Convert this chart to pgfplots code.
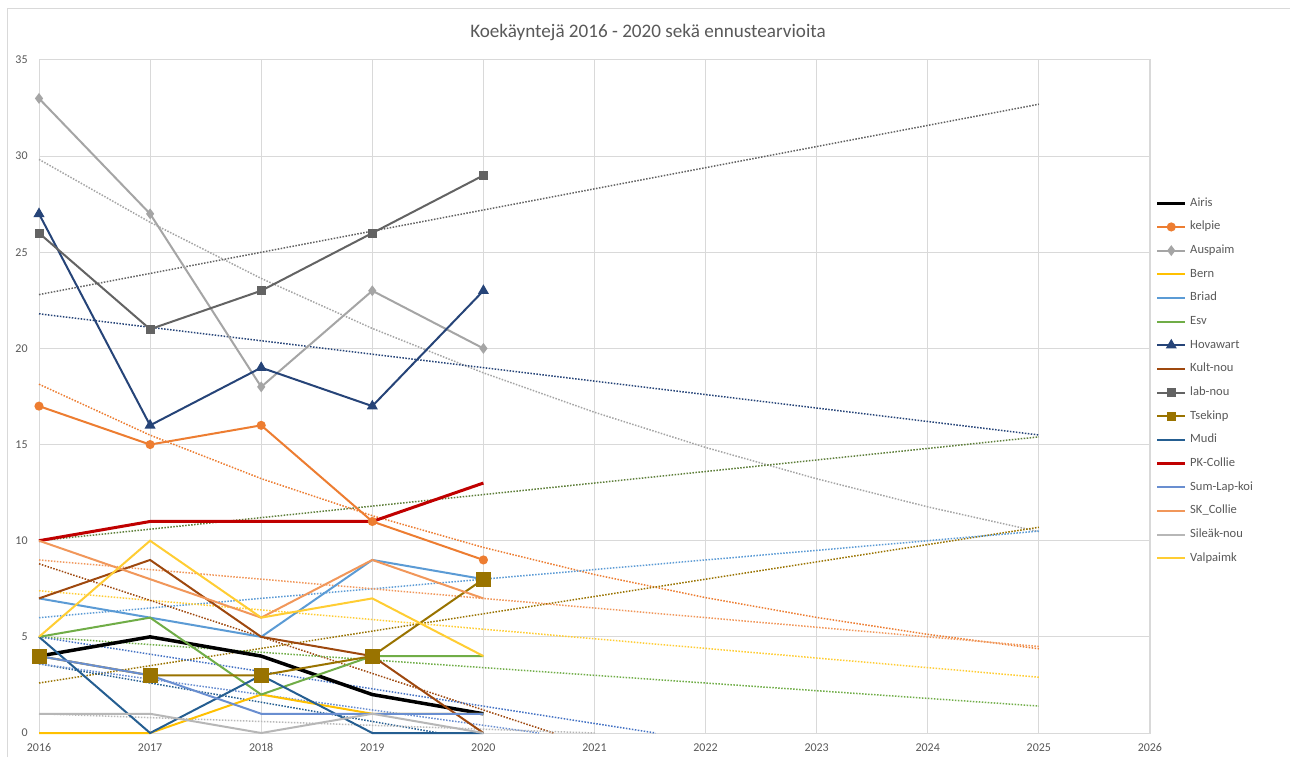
\documentclass[border=0pt]{standalone}
\usepackage{fontspec}
\setmainfont{Carlito}
\usepackage{pgfplots}
\pgfplotsset{compat=1.18}
\usepackage{pgfplotstable}

\definecolor{txt}{HTML}{595959}
\definecolor{gridc}{HTML}{D9D9D9}
\definecolor{cAiris}{HTML}{000000}
\definecolor{cKelpie}{HTML}{ED7D31}
\definecolor{cAuspaim}{HTML}{A5A5A5}
\definecolor{cBern}{HTML}{FFC000}
\definecolor{cBriad}{HTML}{5B9BD5}
\definecolor{cEsv}{HTML}{70AD47}
\definecolor{cHova}{HTML}{264478}
\definecolor{cKult}{HTML}{9E480E}
\definecolor{cLab}{HTML}{636363}
\definecolor{cTsek}{HTML}{997300}
\definecolor{cMudi}{HTML}{255E91}
\definecolor{cPK}{HTML}{C00000}
\definecolor{cSum}{HTML}{698ED0}
\definecolor{cSK}{HTML}{F1975A}
\definecolor{cSile}{HTML}{B7B7B7}
\definecolor{cValp}{HTML}{FFCD33}
\definecolor{cPKtrend}{HTML}{5E7F3A}
\definecolor{cXtrend}{HTML}{4472C4}

% koekäynnit 2016-2020
\pgfplotstableread{
year Airis kelpie Auspaim Bern Briad Esv Hovawart Kultnou labnou Tsekinp Mudi PKCollie SumLap SKCollie Sileak Valpaimk
2016 4 17 33 0 7 5 27 7 26 4  5 10 4 10 1 5
2017 5 15 27 0 6 6 16 9 21 3  0 11 3 8  1 10
2018 4 16 18 2 5 2 19 5 23 3  3 11 1 6  0 6
2019 2 11 23 1 9 4 17 4 26 4  0 11 1 9  1 7
2020 1 9  20 1 8 4 23 0 29 8  0 13 1 7  0 4
}\koe

% eksponentiaaliset trendit (kelpie, Auspaim)
\pgfplotstableread{
year kelpie Auspaim
2016 18.14 29.83
2017 15.49 26.56
2018 13.23 23.64
2019 11.30 21.04
2020 9.65  18.73
2021 8.24  16.68
2022 7.04  14.85
2023 6.01  13.22
2024 5.13  11.76
2025 4.38  10.47
}\kasvu

\begin{document}
\begin{tikzpicture}[x=1bp,y=1bp]
\useasboundingbox (0,0) rectangle (645,378.5);
\fill[white] (0,0) rectangle (645,378.5);
\draw[gridc, line width=0.5bp] (3.5,0) -- (3.5,374) -- (645,374);
\node[text=txt, font=\fontsize{9.6}{11}\selectfont] at (324,362.5)
  {Koekäyntejä 2016 - 2020 sekä ennustearvioita};
\begin{axis}[
    at={(19.5bp,12bp)}, anchor=south west,
    scale only axis, width=555.5bp, height=336.5bp,
    xmin=2016, xmax=2026, ymin=0, ymax=35,
    xtick={2016,2017,...,2026}, ytick={0,5,...,35},
    major tick length=0pt,
    grid=major,
    major grid style={draw=gridc, line width=0.5bp},
    axis line style={draw=gridc, line width=0.5bp},
    clip=false,
    /pgf/number format/assume math mode=true,
    x tick label style={/pgf/number format/1000 sep={}, inner sep=0pt, yshift=-5bp},
    y tick label style={inner sep=0pt, xshift=-5.5bp},
    ticklabel style={font=\fontsize{6}{7}\selectfont, text=txt},
    trend/.style={line width=0.75bp, dash pattern=on 0.75bp off 0.75bp, forget plot},
    ser/.style={line width=1bp},
    legend image code/.code={
      \draw[mark repeat=2, mark phase=2, #1]
        plot coordinates {(0bp,0bp) (6.9bp,0bp) (13.8bp,0bp)};
    },
    legend cell align=left,
    legend style={
      at={(1,0.7957)}, xshift=2.85bp, anchor=north west,
      draw=none, fill=none, inner sep=0pt, outer sep=0pt,
      font=\fontsize{6.3}{7.5}\selectfont, text=txt,
      row sep=6.03bp, column sep=1.7bp,
      nodes={inner sep=0pt, text height=4.4bp, text depth=1.4bp},
    },
  ]
  % trendit
  \addplot[trend, cLab] coordinates {(2016,22.8) (2025,32.7)};
  \addplot[trend, cAuspaim] table[x=year, y=Auspaim] {\kasvu};
  \addplot[trend, cHova] coordinates {(2016,21.8) (2025,15.5)};
  \addplot[trend, cPKtrend] coordinates {(2016,10.0) (2025,15.4)};
  \addplot[trend, cKelpie] table[x=year, y=kelpie] {\kasvu};
  \addplot[trend, cTsek] coordinates {(2016,2.6) (2025,10.7)};
  \addplot[trend, cBriad] coordinates {(2016,6.0) (2025,10.5)};
  \addplot[trend, cSK] coordinates {(2016,9.0) (2025,4.5)};
  \addplot[trend, cValp] coordinates {(2016,7.4) (2025,2.9)};
  \addplot[trend, cKult] coordinates {(2016,8.8) (2020.63,0)};
  \addplot[trend, cEsv] coordinates {(2016,5.0) (2025,1.4)};
  \addplot[trend, cMudi] coordinates {(2016,3.6) (2019.6,0)};
  \addplot[trend, cSum] coordinates {(2016,3.6) (2020.5,0)};
  \addplot[trend, cSile] coordinates {(2016,1.0) (2021,0)};
  \addplot[trend, cXtrend] coordinates {(2016,5.0) (2021.55,0)};

  % sarjat
  \addplot[ser, cAiris, line width=1.75bp] table[x=year, y=Airis] {\koe};
  \addlegendentry{Airis}
  \addplot[ser, cKelpie, mark=*, mark size=1.75bp] table[x=year, y=kelpie] {\koe};
  \addlegendentry{kelpie}
  \addplot[ser, cAuspaim, mark=diamond*, mark size=1.9bp] table[x=year, y=Auspaim] {\koe};
  \addlegendentry{Auspaim}
  \addplot[ser, cBern] table[x=year, y=Bern] {\koe};
  \addlegendentry{Bern}
  \addplot[ser, cBriad] table[x=year, y=Briad] {\koe};
  \addlegendentry{Briad}
  \addplot[ser, cEsv] table[x=year, y=Esv] {\koe};
  \addlegendentry{Esv}
  \addplot[ser, cHova, mark=triangle*, mark size=2.2bp] table[x=year, y=Hovawart] {\koe};
  \addlegendentry{Hovawart}
  \addplot[ser, cKult] table[x=year, y=Kultnou] {\koe};
  \addlegendentry{Kult-nou}
  \addplot[ser, cLab, mark=square*, mark size=1.75bp] table[x=year, y=labnou] {\koe};
  \addlegendentry{lab-nou}
  \addplot[ser, cTsek, mark=square*, mark size=3.25bp,
    legend image post style={mark size=1.75bp}] table[x=year, y=Tsekinp] {\koe};
  \addlegendentry{Tsekinp}
  \addplot[ser, cMudi] table[x=year, y=Mudi] {\koe};
  \addlegendentry{Mudi}
  \addplot[ser, cPK, line width=1.5bp] table[x=year, y=PKCollie] {\koe};
  \addlegendentry{PK-Collie}
  \addplot[ser, cSum] table[x=year, y=SumLap] {\koe};
  \addlegendentry{Sum-Lap-koi}
  \addplot[ser, cSK] table[x=year, y=SKCollie] {\koe};
  \addlegendentry{SK\_Collie}
  \addplot[ser, cSile] table[x=year, y=Sileak] {\koe};
  \addlegendentry{Sileäk-nou}
  \addplot[ser, cValp] table[x=year, y=Valpaimk] {\koe};
  \addlegendentry{Valpaimk}
\end{axis}
\end{tikzpicture}
\end{document}
